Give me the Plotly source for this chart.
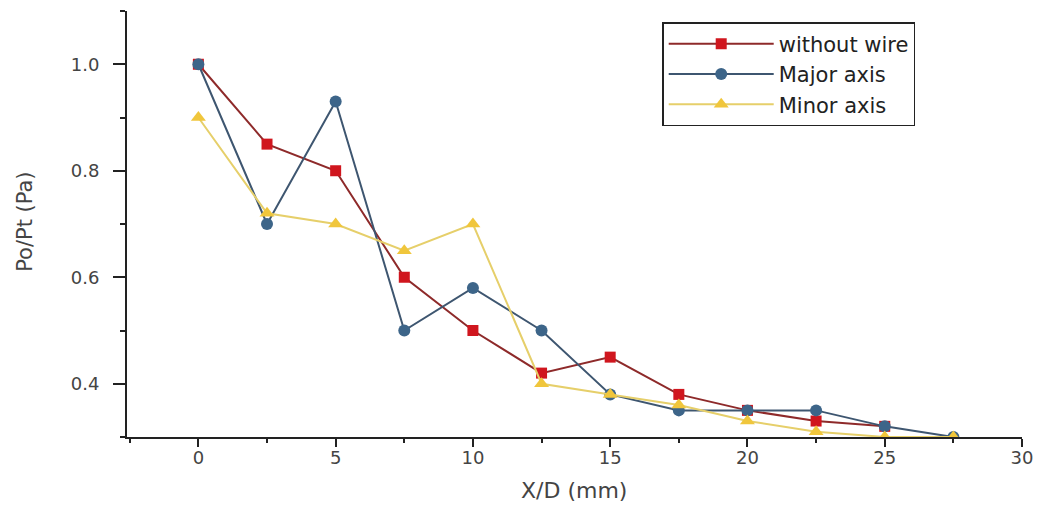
import plotly.graph_objects as go

x_vals = [0, 2.5, 5, 7.5, 10, 12.5, 15, 17.5, 20, 22.5, 25, 27.5]
without_wire = [1.00, 0.85, 0.80, 0.60, 0.50, 0.42, 0.45, 0.38, 0.35, 0.33, 0.32, None]
major_axis = [1.00, 0.70, 0.93, 0.50, 0.58, 0.50, 0.38, 0.35, 0.35, 0.35, 0.32, 0.30]
minor_axis = [0.90, 0.72, 0.70, 0.65, 0.70, 0.40, 0.38, 0.36, 0.33, 0.31, 0.30, 0.30]

x_ticks = [0, 5, 10, 15, 20, 25, 30]
y_ticks = [0.4, 0.6, 0.8, 1.0]

FONT = "DejaVu Sans, Arial, sans-serif"

fig = go.Figure()
fig.add_trace(go.Scatter(
    x=x_vals, y=without_wire, name="without wire", mode="lines+markers",
    line=dict(color="#8e2a2a", width=2),
    marker=dict(symbol="square", size=11, color="#d0161e", line=dict(width=0)),
))
fig.add_trace(go.Scatter(
    x=x_vals, y=major_axis, name="Major axis", mode="lines+markers",
    line=dict(color="#3e5670", width=2),
    marker=dict(symbol="circle", size=12, color="#3d6589", line=dict(width=0)),
))
fig.add_trace(go.Scatter(
    x=x_vals, y=minor_axis, name="Minor axis", mode="lines+markers",
    line=dict(color="#e6cf6a", width=2),
    marker=dict(symbol="triangle-up", size=13, color="#f0c63c", line=dict(width=0)),
))

fig.update_layout(
    width=1045, height=499,
    margin=dict(l=119, r=31, t=3, b=70, autoexpand=False),
    paper_bgcolor="white", plot_bgcolor="white",
    font=dict(family=FONT, color="#333333", size=18),
    showlegend=True,
    legend=dict(
        orientation="v",
        x=0.598, y=0.974, xanchor="left", yanchor="top",
        bgcolor="white", bordercolor="#222222", borderwidth=1.5,
        font=dict(family=FONT, size=21, color="#222222"),
        itemwidth=105, tracegroupgap=0,
    ),
    xaxis=dict(
        range=[-2.6, 30], tickvals=x_ticks, ticks="outside", ticklen=8, tickwidth=2,
        tickcolor="#222222", showline=True, linecolor="#222222", linewidth=2,
        showgrid=False, zeroline=False, tickfont=dict(size=18, color="#444444"),
        ticklabelstandoff=-5,
        minor=dict(dtick=2.5, tick0=0, ticks="outside", ticklen=4, tickwidth=2, tickcolor="#222222", showgrid=False),
    ),
    yaxis=dict(
        range=[0.3, 1.1], tickvals=y_ticks, tickformat=".1f", ticks="outside", ticklen=12, tickwidth=2,
        tickcolor="#222222", showline=True, linecolor="#222222", linewidth=2,
        showgrid=False, zeroline=False, tickfont=dict(size=18, color="#444444"),
        ticklabelstandoff=10,
        minor=dict(dtick=0.1, tick0=0.3, ticks="outside", ticklen=5, tickwidth=2, tickcolor="#222222", showgrid=False),
    ),
    annotations=[
        dict(text="X/D (mm)", xref="paper", yref="paper", x=0.4994, y=-0.1256, xanchor="center", yanchor="middle",
             showarrow=False, font=dict(size=22, color="#444444")),
        dict(text="Po/Pt (Pa)", xref="paper", yref="paper", x=-0.114, y=0.505, xanchor="center", yanchor="middle",
             textangle=-90, showarrow=False, font=dict(size=21, color="#444444")),
    ],
)

fig.write_html("out.html")
